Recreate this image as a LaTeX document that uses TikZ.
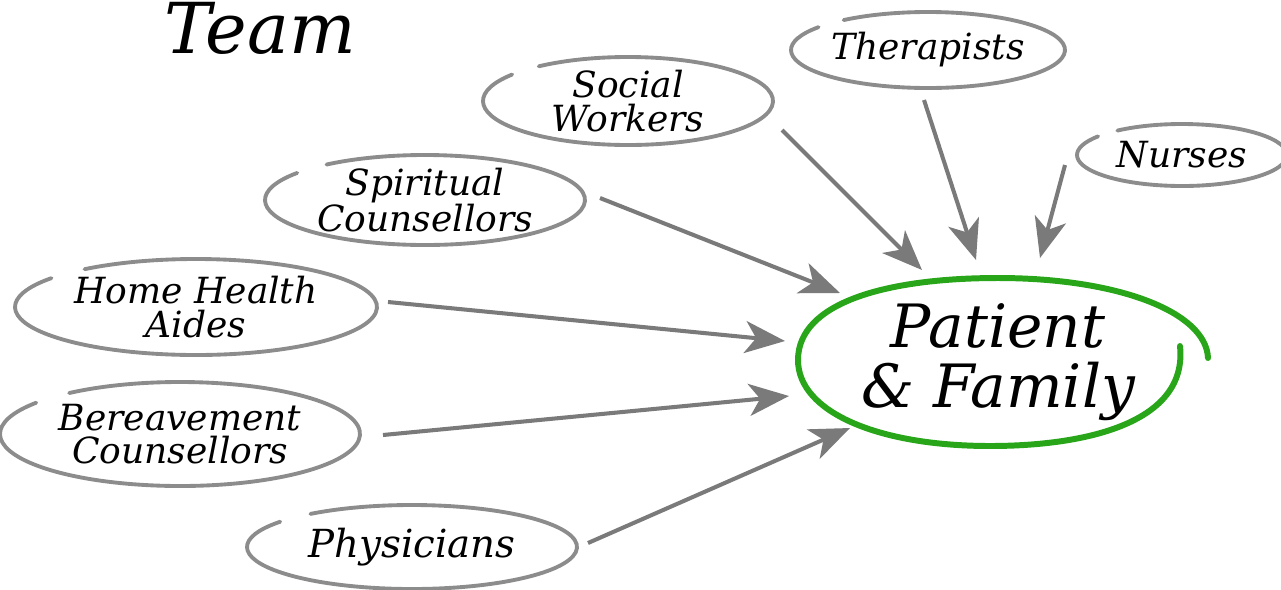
\documentclass[tikz,border=0pt]{standalone}
\usepackage{fontspec}
\setmainfont{DejaVu Serif}
\usetikzlibrary{arrows.meta,calc}
\definecolor{ringgray}{RGB}{140,140,140}
\definecolor{arrowgray}{RGB}{122,122,122}
\definecolor{pgreen}{RGB}{40,165,25}
\newcommand\brushring[3]{\draw[ring] ($(#1.center)+(232:#2 and #3)$) arc[start angle=232, end angle=577, x radius=#2, y radius=#3];}
\begin{document}
\begin{tikzpicture}[x=0.02cm,y=-0.02cm,
  lbl/.style={align=center, inner sep=0pt, font=\itshape\fontsize{20.5}{19}\selectfont},
  ring/.style={draw=ringgray, line width=2.2pt, line cap=round},
  conn/.style={draw=arrowgray, line width=2.3pt, -{Stealth[length=0.8cm, width=0.64cm, inset=0.22cm]}}]
\useasboundingbox (0,0) rectangle (1281,589);
% title
\node[anchor=base, inner sep=0pt, font=\itshape\fontsize{40}{42}\selectfont] (team) at (260,53) {Team};
% team member nodes
\node[lbl] (social) at (628,101) {Social\\Workers};
\node[lbl] (ther) at (928,50) {Therapists};
\node[lbl] (nurses) at (1182,155) {Nurses};
\node[lbl] (spirit) at (425,200) {Spiritual\\Counsellors};
\node[lbl] (home) at (196,307) {Home Health\\Aides};
\node[lbl] (bereave) at (180,434) {Bereavement\\Counsellors};
\node[lbl, font=\itshape\fontsize{22}{20}\selectfont] (phys) at (412,547) {Physicians};
\node[align=center, inner sep=0pt, font=\itshape\fontsize{34}{34}\selectfont] (patient) at (998,362) {Patient\\\& Family};
% brush rings
\brushring{social}{145}{44}
\brushring{ther}{137}{38}
\brushring{nurses}{105}{31}
\brushring{spirit}{160}{45}
\brushring{home}{181}{48}
\brushring{bereave}{180}{52}
\brushring{phys}{165}{42}
% patient ring
\draw[draw=pgreen, line width=3.4pt, line cap=round]
  ($(patient.center)+(182,-16)$) .. controls ($(patient.center)+(190,60)$) and ($(patient.center)+(90,84)$) ..
  ($(patient.center)+(-8,84)$) .. controls ($(patient.center)+(-120,84)$) and ($(patient.center)+(-200,50)$) ..
  ($(patient.center)+(-200,-2)$) .. controls ($(patient.center)+(-200,-60)$) and ($(patient.center)+(-110,-84)$) ..
  ($(patient.center)+(0,-84)$) .. controls ($(patient.center)+(120,-84)$) and ($(patient.center)+(208,-50)$) ..
  ($(patient.center)+(210,-4)$);
% connectors
\draw[conn] ($(social.center)+(154,29)$) -- ($(patient.center)+(-76,-92)$);
\draw[conn] ($(ther.center)+(-4,50)$) -- ($(patient.center)+(-22,-102)$);
\draw[conn] ($(nurses.center)+(-117,10)$) -- ($(patient.center)+(42,-104)$);
\draw[conn] ($(spirit.center)+(175,-2)$) -- ($(patient.center)+(-158,-69)$);
\draw[conn] ($(home.center)+(192,-5)$) -- ($(patient.center)+(-213,-21)$);
\draw[conn] ($(bereave.center)+(203,1)$) -- ($(patient.center)+(-209,34)$);
\draw[conn] ($(phys.center)+(176,-4)$) -- ($(patient.center)+(-148,66)$);
\end{tikzpicture}
\end{document}
